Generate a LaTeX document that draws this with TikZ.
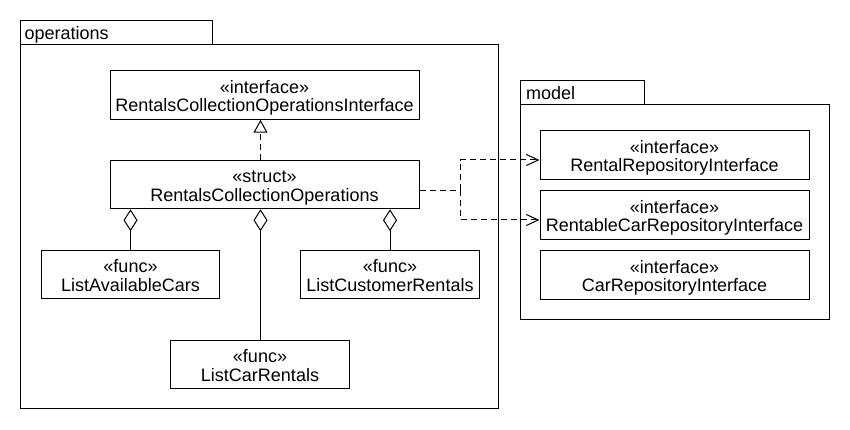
\documentclass[tikz,border=0pt]{standalone}
\usepackage{fontspec}
\setmainfont{Liberation Sans}
\usetikzlibrary{arrows.meta,calc}
\begin{document}
\begin{tikzpicture}[x=1pt,y=-1pt,line width=1pt,
  box/.style={draw,rectangle,inner sep=0pt,minimum height=48.5pt},
  txt/.style={inner sep=0pt,font=\fontsize{18}{18.4}\selectfont},
  pkg/.style={draw,line width=1pt},
  dep/.style={dash pattern=on 6pt off 4pt,-{Straight Barb[length=12pt,width=11pt]}},
  real/.style={dash pattern=on 6pt off 4pt,-{Triangle[open,length=13pt,width=14pt]}},
  agg/.style={{Diamond[open,length=22pt,width=14pt]}-}]
\newcommand\umlbox[5]{%
  \node[box,minimum width=#3] (#1) at (#2) {};
  \node[txt,anchor=base] at ($(#1.center)+(0,-1.7)$) {#4};
  \node[txt,anchor=base] at ($(#1.center)+(0,16.7)$) {#5};}
\useasboundingbox[fill=white] (0,0) rectangle (850,430);
% packages
\draw[pkg] (20,44.5) rectangle (498.5,408.5);
\draw[pkg] (20,20.5) rectangle (212,44.5);
\node[txt,anchor=base west] (opslbl) at (24,39.3) {operations};
\draw[pkg] (520.5,105) rectangle (829,319);
\draw[pkg] (520.5,81) rectangle (644,105);
\node[txt,anchor=base west] (modellbl) at (525.5,100) {model};
% boxes
\umlbox{iface}{264.5,95}{309}{«interface»}{RentalsCollectionOperationsInterface}
\umlbox{struct}{264.5,184.5}{309}{«struct»}{RentalsCollectionOperations}
\umlbox{lac}{130.5,274.5}{178.5}{«func»}{ListAvailableCars}
\umlbox{lcr}{390,274.5}{179}{«func»}{ListCustomerRentals}
\umlbox{lcar}{260,364.5}{179}{«func»}{ListCarRentals}
\umlbox{rr}{674.5,155}{269}{«interface»}{RentalRepositoryInterface}
\umlbox{rc}{674.5,215}{269}{«interface»}{RentableCarRepositoryInterface}
\umlbox{cr}{674.5,275}{269}{«interface»}{CarRepositoryInterface}
% realization
\draw[real] ($(struct.north)+(-4,0)$) -- ($(iface.south)+(-4,0)$);
% aggregations
\draw[agg] (struct.south -| lac.north) -- (lac.north);
\draw[agg] (struct.south -| lcr.north) -- (lcr.north);
\draw[agg] ($(struct.south)+(-4,0)$) -- ($(lcar.north)+(0.5,0)$);
% dependencies
\coordinate (j) at (460.5,190.5);
\draw[dash pattern=on 6pt off 4pt] ($(struct.east)+(0,6)$) -- (j);
\draw[dep] (j) |- ($(rr.west)+(0,5)$);
\draw[dep] (j) |- ($(rc.west)+(0,5)$);
\end{tikzpicture}
\end{document}
